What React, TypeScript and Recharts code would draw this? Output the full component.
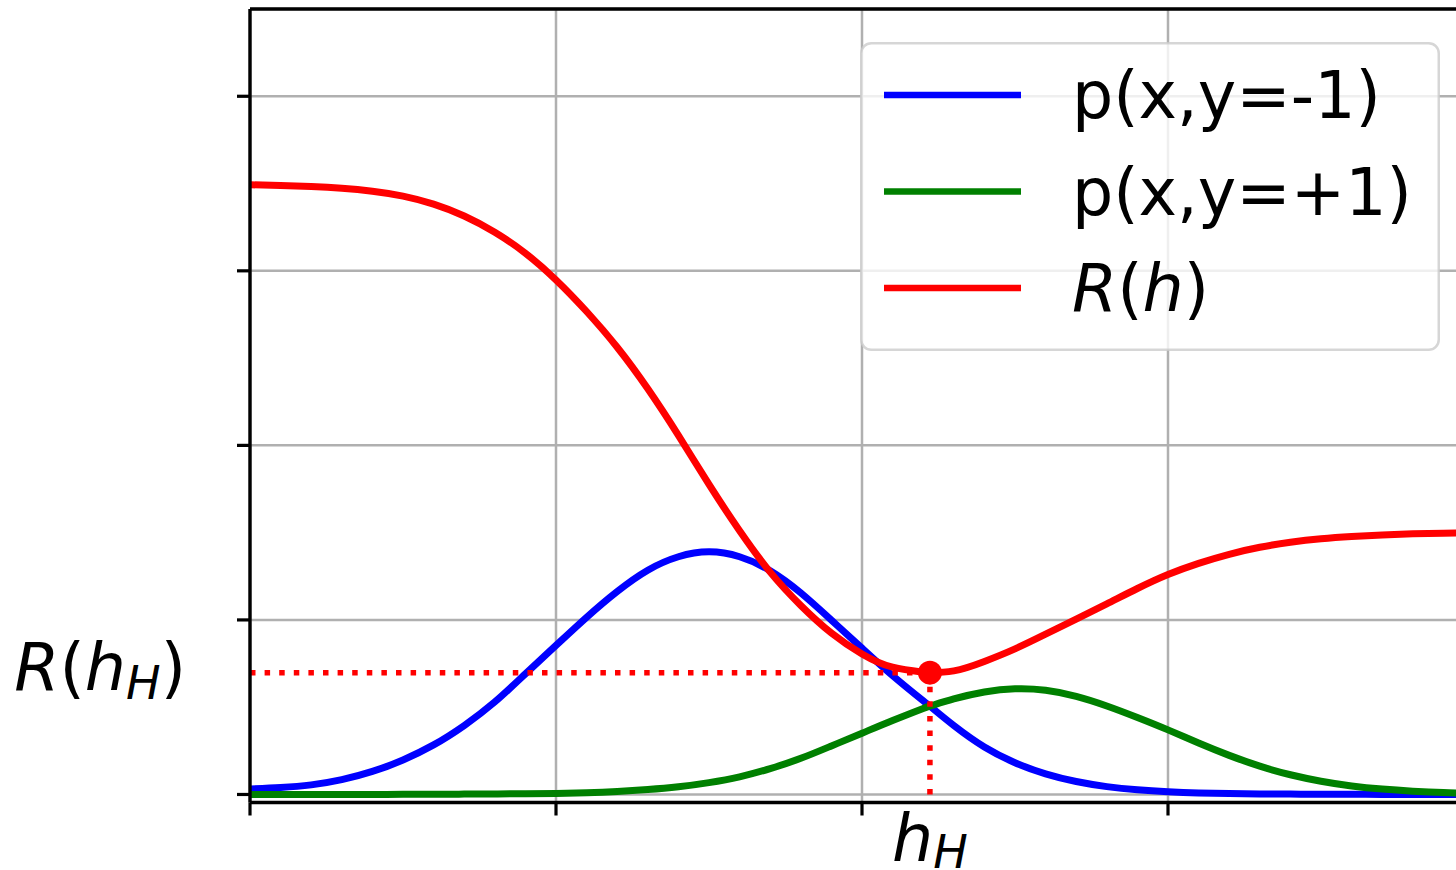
import {
    LineChart,
    Line,
    XAxis,
    YAxis,
    CartesianGrid,
    ReferenceLine,
    ReferenceDot,
    Legend,
} from "recharts";

// x positions (tick units)
const xs = [
    0, 0.1, 0.2, 0.3, 0.4, 0.5, 0.6, 0.7, 0.8, 0.9,
    1.0, 1.1, 1.2, 1.3, 1.4, 1.5, 1.6, 1.7, 1.8, 1.9,
    2.0, 2.1, 2.2, 2.222, 2.3, 2.4, 2.5, 2.6, 2.7, 2.8, 2.9,
    3.0, 3.1, 3.2, 3.3, 3.4, 3.5, 3.6, 3.7, 3.8, 3.9, 4.0,
];

// p(x, y=-1)
const pNeg = [
    0.032, 0.04, 0.055, 0.085, 0.132, 0.198, 0.284, 0.395, 0.53, 0.691,
    0.854, 1.015, 1.163, 1.285, 1.362, 1.39, 1.362, 1.282, 1.155, 0.999,
    0.838, 0.681, 0.537, 0.506, 0.395, 0.272, 0.182, 0.118, 0.074, 0.045, 0.027,
    0.016, 0.009, 0.005, 0.003, 0.002, 0.001, 0.001, 0, 0, 0, 0,
];

// p(x, y=+1)
const pPos = [
    0, 0, 0, 0, 0, 0.001, 0.001, 0.002, 0.003, 0.004,
    0.006, 0.01, 0.017, 0.028, 0.044, 0.068, 0.101, 0.148, 0.207, 0.278,
    0.351, 0.424, 0.493, 0.506, 0.547, 0.587, 0.605, 0.597, 0.562, 0.507, 0.441,
    0.37, 0.295, 0.224, 0.162, 0.113, 0.076, 0.049, 0.031, 0.019, 0.011, 0.007,
];

// R(h)
const risk = [
    3.493, 3.489, 3.483, 3.473, 3.456, 3.428, 3.382, 3.314, 3.221, 3.101,
    2.948, 2.767, 2.562, 2.324, 2.057, 1.776, 1.511, 1.274, 1.083, 0.925,
    0.805, 0.729, 0.701, 0.698, 0.708, 0.762, 0.834, 0.918, 1.005, 1.092, 1.18,
    1.26, 1.324, 1.376, 1.416, 1.445, 1.465, 1.478, 1.487, 1.493, 1.497, 1.499,
];

const hH = 2.222;
const riskMin = 0.698;

const xTicks = [0, 1, 2, 3, 4];
const yTicks = [0, 1, 2, 3, 4];

const seriesKeys = ["pNeg", "pPos", "risk"];
const seriesNames = ["p(x,y=-1)", "p(x,y=+1)", "R(h)"];
const seriesColors = ["#0000ff", "#008000", "#ff0000"];

const data = xs.map((x, i) => ({
    x,
    pNeg: pNeg[i],
    pPos: pPos[i],
    risk: risk[i],
}));

const FONT = "DejaVu Sans";
const LW = 7;

// tick marks drawn by hand so they point outward like matplotlib's
const YTickMark = ({ x, y }: any) => (
    <line x1={x - 13} x2={x} y1={y} y2={y} stroke="#000" strokeWidth={3.2} />
);

const XTickMark = ({ x, y }: any) => (
    <line x1={x} x2={x} y1={y} y2={y + 13} stroke="#000" strokeWidth={3.2} />
);

const RiskTick = ({ x, y }: any) => (
    <text
        x={x}
        y={y + 17}
        textAnchor="end"
        fontFamily={FONT}
        fontSize={65}
        fill="#000"
    >
        <tspan fontStyle="italic">R</tspan>
        <tspan>(</tspan>
        <tspan fontStyle="italic">h</tspan>
        <tspan fontStyle="italic" fontSize={46} dy={9}>H</tspan>
        <tspan dy={-9}>)</tspan>
    </text>
);

const HTick = ({ x, y }: any) => (
    <text
        x={x}
        y={y + 44}
        textAnchor="middle"
        fontFamily={FONT}
        fontSize={65}
        fill="#000"
    >
        <tspan fontStyle="italic">h</tspan>
        <tspan fontStyle="italic" fontSize={46} dy={7}>H</tspan>
    </text>
);

const LegendBox = () => (
    <svg width={580} height={309}>
        <rect
            x={1.25}
            y={1.25}
            width={577.5}
            height={306.5}
            rx={10}
            fill="#ffffff"
            fillOpacity={0.8}
            stroke="#cccccc"
            strokeOpacity={0.8}
            strokeWidth={2.5}
        />
        {seriesNames.map((name, i) => {
            const cy = 53 + i * 96.5;
            return (
                <g key={name}>
                    <line
                        x1={24}
                        x2={161}
                        y1={cy}
                        y2={cy}
                        stroke={seriesColors[i]}
                        strokeWidth={6.5}
                    />
                    {name === "R(h)" ? (
                        <text x={212} y={cy + 23} fontFamily={FONT} fontSize={65} fill="#000">
                            <tspan fontStyle="italic">R</tspan>
                            <tspan>(</tspan>
                            <tspan fontStyle="italic">h</tspan>
                            <tspan>)</tspan>
                        </text>
                    ) : (
                        <text x={212} y={cy + 23} fontFamily={FONT} fontSize={65} fill="#000">
                            {name}
                        </text>
                    )}
                </g>
            );
        })}
    </svg>
);

const spine = { stroke: "#000", strokeWidth: 3.4 };

export default function App() {
    return (
        <div
            style={{
                position: "fixed",
                left: 0,
                top: 0,
                width: 1456,
                height: 870,
                overflow: "hidden",
                background: "#fff",
            }}
        >
            <LineChart
                width={1500}
                height={870}
                data={data}
                margin={{ top: 8, right: 26, bottom: 0, left: 0 }}
            >
                <CartesianGrid stroke="#b0b0b0" strokeWidth={2.5} />

                <XAxis
                    dataKey="x"
                    type="number"
                    domain={[0, 4]}
                    ticks={xTicks}
                    allowDataOverflow
                    height={14}
                    tickSize={0}
                    tickMargin={0}
                    tickLine={false}
                    tick={<XTickMark />}
                    axisLine={spine}
                />
                <XAxis
                    xAxisId="lab"
                    dataKey="x"
                    type="number"
                    domain={[0, 4]}
                    ticks={[hH]}
                    allowDataOverflow
                    height={53.5}
                    axisLine={false}
                    tickLine={false}
                    tickSize={0}
                    tickMargin={0}
                    tick={<HTick />}
                />
                <XAxis
                    xAxisId="top"
                    orientation="top"
                    dataKey="x"
                    type="number"
                    domain={[0, 4]}
                    ticks={xTicks}
                    allowDataOverflow
                    height={1}
                    axisLine={spine}
                    tickLine={false}
                    tick={() => <g />}
                />

                <YAxis
                    type="number"
                    domain={[-0.046, 4.5]}
                    ticks={yTicks}
                    allowDataOverflow
                    width={14}
                    tickSize={0}
                    tickMargin={0}
                    tickLine={false}
                    tick={<YTickMark />}
                    axisLine={spine}
                />
                <YAxis
                    yAxisId="lab"
                    type="number"
                    domain={[-0.046, 4.5]}
                    ticks={[riskMin]}
                    allowDataOverflow
                    width={236}
                    axisLine={false}
                    tickLine={false}
                    tickSize={0}
                    tickMargin={50}
                    tick={<RiskTick />}
                />

                <Legend
                    layout="vertical"
                    align="center"
                    verticalAlign="middle"
                    wrapperStyle={{ left: 860, top: 42, width: 580, height: 309 }}
                    content={<LegendBox />}
                />

                {seriesKeys.map((key, i) => (
                    <Line
                        key={key}
                        dataKey={key}
                        name={seriesNames[i]}
                        type="natural"
                        stroke={seriesColors[i]}
                        strokeWidth={LW}
                        style={{ strokeWidth: LW }}
                        dot={false}
                        activeDot={false}
                        isAnimationActive={false}
                    />
                ))}

                <ReferenceLine
                    segment={[
                        { x: 0, y: riskMin },
                        { x: hH, y: riskMin },
                    ]}
                    stroke="#ff0000"
                    strokeWidth={5.5}
                    strokeDasharray="5.5 9.1"
                    ifOverflow="visible"
                />
                <ReferenceLine
                    segment={[
                        { x: hH, y: 0 },
                        { x: hH, y: riskMin },
                    ]}
                    stroke="#ff0000"
                    strokeWidth={5.5}
                    strokeDasharray="5.5 9.1"
                    ifOverflow="visible"
                />
                <ReferenceDot
                    x={hH}
                    y={riskMin}
                    r={12}
                    fill="#ff0000"
                    stroke="none"
                    ifOverflow="visible"
                />
            </LineChart>
        </div>
    );
}
